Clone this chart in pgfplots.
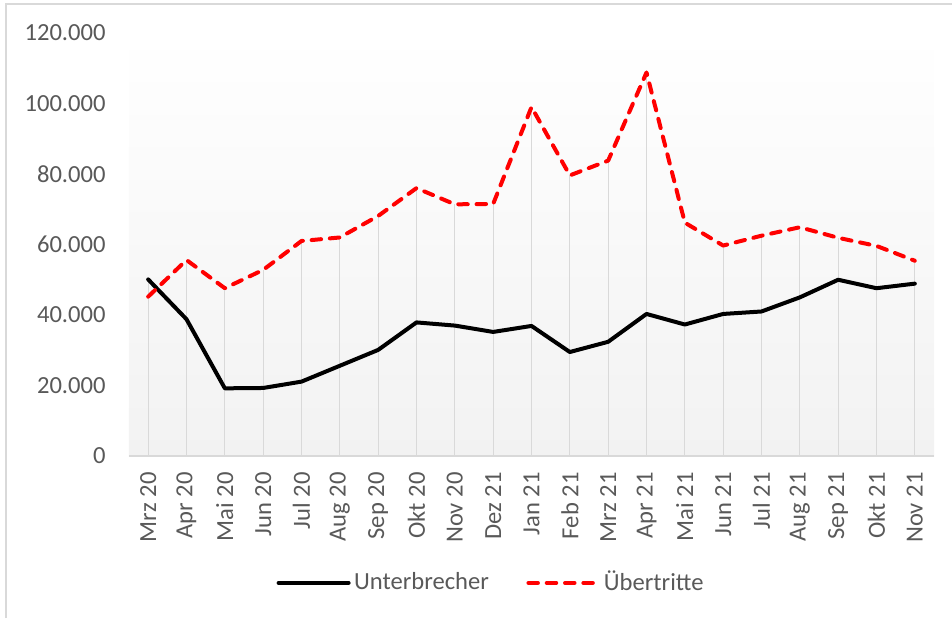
\documentclass[border=0pt]{standalone}
\usepackage{pgfplots}
\pgfplotsset{compat=1.18}
\usepackage{fontspec}
\setmainfont{Carlito}
\definecolor{txt}{HTML}{595959}
\definecolor{grd}{HTML}{D9D9D9}
\definecolor{bgb}{HTML}{F2F2F2}
\begin{document}
\fontsize{12.3pt}{14.8pt}\selectfont
\begin{tikzpicture}
\useasboundingbox (-64.5pt,-81pt) rectangle (411.5pt,228pt);
\draw[grd,line width=0.75pt] (-61.5pt,-81pt) -- (-61.5pt,226pt) -- (411.5pt,226pt);
\begin{axis}[
  scale only axis,
  width=402.5pt, height=211.5pt,
  at={(0,0)}, anchor=south west,
  xmin=-0.5, xmax=20.5,
  ymin=0, ymax=120000,
  scaled y ticks=false,
  axis x line*=bottom, axis y line*=left,
  x axis line style={draw=grd,line width=0.75pt,-},
  y axis line style={draw=none},
  axis background/.style={shade,top color=white,bottom color=bgb,draw=none},
  major tick length=0pt,
  xtick={0,...,20},
  xticklabels={Mrz 20,Apr 20,Mai 20,Jun 20,Jul 20,Aug 20,Sep 20,Okt 20,Nov 20,Dez 21,Jan 21,Feb 21,Mrz 21,Apr 21,Mai 21,Jun 21,Jul 21,Aug 21,Sep 21,Okt 21,Nov 21},
  xticklabel style={yshift=-8pt,rotate=90,anchor=east,inner sep=0pt,text=txt,font=\fontsize{12.3pt}{14.8pt}\selectfont},
  ytick={0,20000,40000,60000,80000,100000,120000},
  yticklabels={0,20.000,40.000,60.000,80.000,100.000,120.000},
  yticklabel style={anchor=east,inner sep=0pt,xshift=-11.5pt,text=txt,font=\fontsize{12.3pt}{14.8pt}\selectfont},
  /pgf/number format/assume math mode=true,
  legend columns=2,
  legend style={at={(0.4507,-0.300)},anchor=center,draw=none,fill=none,
    font=\fontsize{12.3pt}{14.8pt}\selectfont,text=txt,
    nodes={inner sep=1.75pt},
    /tikz/every even column/.append style={column sep=17pt}},
  legend image code/.code={\draw[#1] (0pt,0pt) -- (35pt,0pt);},
  clip=false,
]
\addplot[ycomb,draw=grd,line width=0.6pt,forget plot] coordinates {
(0,50100) (1,38800) (2,19200) (3,19300) (4,21100) (5,25600) (6,30100) (7,37900) (8,37000) (9,35200) (10,36900) (11,29500) (12,32400) (13,40300) (14,37300) (15,40300) (16,41000) (17,45000) (18,50000) (19,47600) (20,48900)};
\addplot[ycomb,draw=grd,line width=0.6pt,forget plot] coordinates {
(0,45200) (1,55600) (2,47600) (3,52800) (4,61000) (5,62000) (6,68100) (7,76000) (8,71400) (9,71500) (10,99000) (11,79600) (12,83800) (13,108800) (14,66200) (15,59700) (16,62500) (17,64900) (18,61900) (19,59600) (20,55400)};
\addplot[black,line width=2pt,line join=round,line cap=round] coordinates {
(0,50100) (1,38800) (2,19200) (3,19300) (4,21100) (5,25600) (6,30100) (7,37900) (8,37000) (9,35200) (10,36900) (11,29500) (12,32400) (13,40300) (14,37300) (15,40300) (16,41000) (17,45000) (18,50000) (19,47600) (20,48900)};
\addlegendentry{Unterbrecher}
\addplot[red,line width=2pt,line join=round,line cap=round,dash pattern=on 4.75pt off 4.4pt] coordinates {
(0,45200) (1,55600) (2,47600) (3,52800) (4,61000) (5,62000) (6,68100) (7,76000) (8,71400) (9,71500) (10,99000) (11,79600) (12,83800) (13,108800) (14,66200) (15,59700) (16,62500) (17,64900) (18,61900) (19,59600) (20,55400)};
\addlegendentry{Übertritte}
\end{axis}
\end{tikzpicture}
\end{document}
